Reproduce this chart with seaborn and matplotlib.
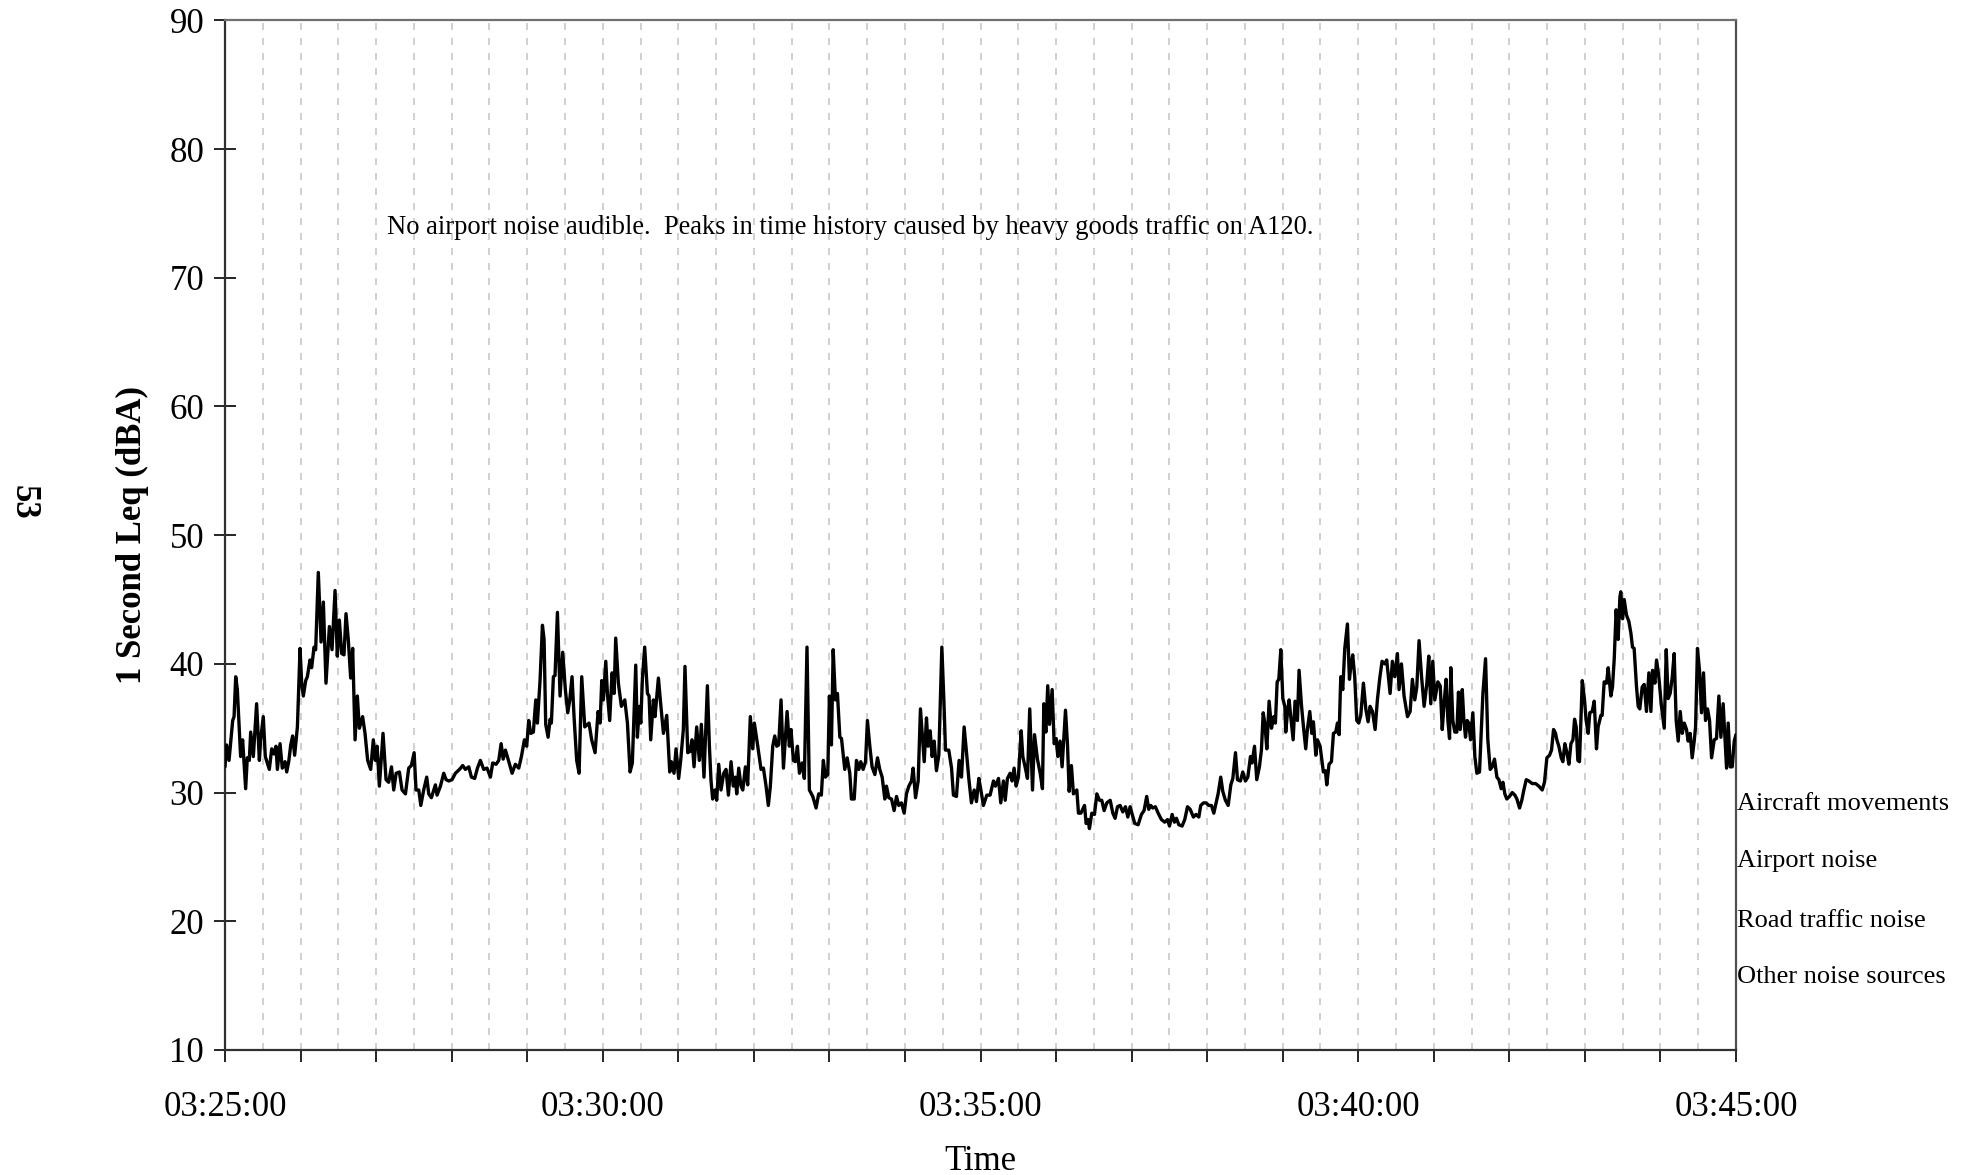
import matplotlib
matplotlib.use("Agg")
import matplotlib.pyplot as plt
from matplotlib.ticker import FixedLocator, NullFormatter, FixedFormatter
import seaborn as sns
import pandas as pd

# ---- data: (seconds after 03:25:00, 1 second Leq dBA) ----
trace_0325 = [(0.0, 32.0), (1.3, 33.7), (3.2, 32.5), (6.1, 35.6), (7.2, 35.9), (8.5, 39.0), (9.8, 38.0),
              (12.4, 32.8), (14.0, 34.1), (16.4, 30.3), (17.7, 32.7), (19.3, 32.5), (20.4, 34.7), (22.5, 32.8),
              (25.1, 36.9), (27.3, 32.5), (28.3, 34.1), (30.4, 35.9), (32.0, 32.8), (35.2, 31.8), (37.1, 33.4),
              (38.9, 33.0), (40.5, 33.6), (41.6, 31.8), (43.7, 33.8), (45.5, 31.9), (47.7, 32.4), (49.0, 31.6),
              (50.6, 32.4), (52.2, 33.7), (53.7, 34.4), (55.3, 32.9), (57.5, 35.1), (59.6, 41.2), (60.9, 38.5),
              (62.2, 37.5), (64.1, 38.7), (65.4, 39.0), (67.5, 40.3), (68.8, 39.7), (70.7, 41.3), (72.0, 41.1),
              (74.1, 47.1), (76.3, 41.7), (78.1, 44.8), (80.2, 38.5), (82.9, 42.9), (85.0, 41.1), (87.4, 45.7),
              (89.2, 40.6), (90.8, 43.4), (92.7, 40.8), (94.5, 40.7), (96.1, 43.9), (97.9, 41.9), (99.8, 38.9),
              (101.4, 41.2), (103.3, 34.1), (105.1, 37.5), (106.7, 35.0), (109.3, 35.9), (111.2, 34.6),
              (113.3, 32.5), (115.7, 31.8), (117.8, 34.1)]
trace_0327 = [(119.4, 32.5), (120.8, 33.6), (122.6, 30.5), (125.5, 34.6), (127.9, 31.0), (130.0, 30.8),
              (132.2, 32.0), (134.0, 30.2), (135.9, 31.5), (138.5, 31.6), (140.6, 30.2), (143.3, 29.9),
              (145.9, 31.9), (148.0, 32.1), (150.2, 33.1), (151.7, 30.2), (153.9, 30.2), (155.5, 29.0),
              (157.8, 30.2), (160.2, 31.2), (161.8, 29.9), (163.9, 29.6), (167.1, 30.6), (168.4, 29.8),
              (171.1, 30.5), (173.7, 31.5), (175.6, 31.0), (177.7, 30.9), (180.3, 31.0), (183.0, 31.5),
              (186.2, 31.8), (188.8, 32.1), (190.9, 31.8), (193.6, 32.0), (195.7, 31.2), (198.3, 31.1),
              (200.5, 31.9), (202.8, 32.5), (205.5, 31.8), (208.1, 31.9), (210.8, 31.2), (212.6, 32.3),
              (215.3, 32.2), (217.4, 32.5), (219.3, 33.8), (220.9, 32.6), (222.7, 33.3), (225.4, 32.4),
              (228.0, 31.5), (230.6, 32.2), (233.3, 31.9), (235.4, 32.8), (237.8, 34.1)]
trace_0329 = [(239.6, 33.6), (241.2, 35.6), (242.8, 34.6), (244.9, 34.7), (246.8, 37.2), (248.1, 35.4),
              (250.2, 38.7), (252.1, 43.0), (253.4, 41.9), (254.7, 35.3), (256.6, 34.3), (258.2, 35.7),
              (259.2, 35.4), (260.8, 39.0), (262.1, 39.1), (264.0, 44.0), (266.1, 37.5), (268.2, 40.9),
              (270.3, 38.0), (272.2, 36.2), (273.8, 37.2), (275.6, 39.0), (277.2, 35.9), (279.3, 32.5),
              (281.2, 31.5), (283.3, 39.0), (285.7, 35.1), (289.1, 35.4), (291.2, 34.1), (293.9, 33.1),
              (296.3, 36.3), (297.9, 35.4), (299.2, 38.7), (300.5, 37.2), (302.4, 40.2), (303.7, 37.7),
              (305.5, 35.6), (307.4, 39.3), (309.0, 37.7), (310.3, 42.0), (312.4, 38.5), (314.8, 36.7),
              (317.5, 37.2), (319.6, 35.4), (321.7, 31.6), (323.5, 32.3), (324.9, 36.2), (326.2, 39.9),
              (327.5, 34.3), (329.1, 36.7), (330.2, 35.4), (331.5, 38.9), (333.3, 41.3), (335.5, 37.7),
              (336.8, 37.5), (338.1, 34.1), (340.2, 37.2), (341.5, 35.9), (344.2, 38.9), (346.0, 36.9),
              (348.2, 34.6), (350.8, 36.0), (353.2, 31.6), (354.5, 32.4), (356.6, 31.5), (358.2, 33.4)]
trace_0331 = [(360.3, 31.1), (361.9, 32.5), (364.0, 34.9), (365.3, 39.8), (367.5, 33.1), (369.3, 33.2),
              (370.9, 34.1), (372.5, 32.0), (374.6, 35.1), (376.7, 32.5), (378.3, 35.3), (380.4, 31.2),
              (383.1, 38.3), (384.7, 33.6), (386.0, 30.9), (387.3, 29.5), (389.2, 30.2), (390.5, 29.4),
              (392.1, 32.2), (393.9, 30.2), (396.1, 31.5), (397.9, 31.8), (399.8, 29.8), (401.9, 32.4),
              (403.7, 30.5), (405.3, 31.2), (406.4, 29.9), (408.0, 31.9), (409.8, 30.5), (411.2, 30.2),
              (413.3, 32.0), (415.1, 30.6), (417.2, 35.9), (419.1, 33.4), (420.4, 35.4), (423.1, 33.6),
              (425.7, 31.8), (427.6, 31.9), (429.7, 30.5), (431.5, 29.0), (433.1, 30.5), (435.0, 33.6),
              (436.6, 34.4), (438.2, 33.6), (439.7, 33.7), (441.6, 37.2), (443.5, 31.9), (446.4, 36.3),
              (448.2, 33.6), (449.5, 34.9), (451.4, 32.5), (453.0, 32.4), (454.6, 33.6), (456.2, 31.5),
              (458.3, 32.3), (460.1, 31.1), (462.2, 41.3), (464.1, 30.2), (466.8, 29.7), (469.4, 28.8),
              (471.5, 29.9), (473.6, 29.8), (475.2, 32.5), (476.8, 31.2), (478.7, 31.4), (480.0, 37.5)]
trace_0333 = [(481.6, 33.7), (483.0, 41.1), (484.8, 37.2), (486.4, 37.7), (488.3, 34.3), (489.6, 34.2),
              (492.2, 31.8), (494.1, 32.7), (496.2, 31.5), (497.5, 29.5), (499.7, 29.5), (501.5, 32.5),
              (503.4, 31.8), (504.9, 32.4), (506.8, 31.8), (508.7, 32.4), (510.2, 35.6), (512.1, 33.6),
              (513.9, 32.0), (516.1, 31.4), (518.2, 32.7), (520.0, 31.8), (521.9, 31.2), (524.0, 29.5),
              (525.3, 30.5), (527.2, 29.6), (529.3, 29.5), (531.4, 28.6), (533.3, 29.7), (535.1, 29.0),
              (537.2, 29.2), (539.4, 28.4), (541.2, 29.9), (543.1, 30.5), (545.2, 30.9), (546.5, 31.9),
              (548.4, 29.6), (550.5, 30.9), (552.3, 36.5), (553.7, 34.6), (555.3, 32.4), (557.1, 35.8),
              (558.4, 33.6), (560.0, 34.8), (561.6, 32.8), (563.2, 34.0), (565.0, 31.7), (566.9, 32.9),
              (569.3, 41.3), (570.9, 37.2), (572.2, 33.3), (574.8, 33.3), (577.0, 31.9), (578.5, 29.8),
              (580.9, 29.7), (583.0, 32.5), (584.9, 31.2), (587.0, 35.1), (588.9, 33.1), (590.7, 31.1),
              (592.8, 29.2), (595.0, 30.2), (596.8, 29.3), (598.7, 31.1), (600.3, 30.2)]
trace_0335 = [(602.3, 29.0), (605.0, 29.8), (607.6, 29.8), (610.3, 30.9), (611.9, 30.5), (614.3, 31.1),
              (616.1, 29.2), (618.2, 30.9), (619.6, 29.4), (621.4, 31.1), (623.5, 31.5), (625.1, 30.9),
              (626.7, 31.9), (628.3, 30.5), (630.1, 31.2), (632.3, 34.8), (633.6, 32.8), (635.4, 32.0),
              (637.3, 31.1), (639.1, 36.5), (641.3, 30.2), (642.9, 34.5), (645.2, 32.6), (647.4, 31.5),
              (649.2, 30.3), (650.3, 36.9), (651.9, 34.7), (653.4, 38.3), (654.8, 35.3), (656.9, 38.0),
              (658.5, 33.8), (660.1, 34.2), (661.4, 32.8), (663.2, 34.0), (664.8, 32.0), (667.5, 36.4),
              (669.1, 33.7), (670.4, 30.1), (672.2, 32.1), (673.8, 29.9), (676.5, 30.2), (677.8, 28.4),
              (679.7, 28.4), (682.6, 29.0), (683.9, 27.6), (685.5, 27.9), (686.5, 27.2), (688.4, 28.4),
              (690.5, 28.3), (692.4, 29.9), (694.5, 29.4), (696.3, 29.4), (698.2, 28.6), (700.3, 29.2),
              (703.0, 29.4), (705.1, 28.4), (706.9, 28.0), (708.8, 28.9), (710.9, 29.0), (713.0, 28.5),
              (715.1, 28.9), (717.0, 28.1), (718.8, 28.9)]
trace_0337 = [(722.5, 27.6), (725.2, 27.5), (727.8, 28.3), (729.9, 28.6), (732.0, 29.7), (733.6, 28.7),
              (735.2, 29.0), (736.8, 28.8), (738.9, 28.9), (741.1, 28.4), (743.7, 27.9), (746.3, 27.7),
              (748.5, 27.9), (750.1, 27.4), (752.2, 28.3), (754.0, 27.7), (755.6, 28.0), (757.5, 27.5),
              (760.1, 27.4), (762.2, 27.9), (764.4, 28.9), (766.5, 28.7), (769.1, 28.1), (771.2, 28.3),
              (773.4, 28.1), (774.9, 29.0), (777.1, 29.2), (779.2, 29.2), (781.3, 29.0), (783.4, 29.0),
              (785.3, 28.4), (787.1, 29.2), (788.7, 29.9), (790.8, 31.2), (792.4, 30.1), (794.5, 29.4),
              (796.7, 29.0), (798.8, 30.6), (800.4, 31.1), (802.5, 33.1), (804.1, 31.0), (806.4, 30.9),
              (808.3, 31.6), (810.4, 30.9), (812.3, 31.2), (814.4, 32.8), (815.7, 32.3), (817.6, 33.6),
              (819.4, 31.0), (821.5, 32.0), (823.1, 33.3), (824.5, 36.2), (825.8, 35.4), (827.4, 33.4),
              (829.2, 37.1), (831.1, 35.0), (832.9, 35.9), (834.2, 35.4), (835.6, 38.6), (836.9, 38.8),
              (838.5, 41.1), (840.1, 37.3), (841.7, 36.7)]
trace_0339 = [(842.4, 34.7), (843.7, 36.1), (845.1, 37.2), (846.4, 35.9), (848.3, 34.1), (849.8, 37.1),
              (851.7, 35.6), (853.0, 39.5), (854.9, 36.8), (856.5, 35.1), (858.3, 33.4), (859.6, 34.9),
              (861.5, 36.3), (863.1, 34.6), (864.4, 35.5), (866.3, 32.9), (867.6, 34.1), (869.7, 33.6),
              (872.3, 31.6), (873.9, 31.7), (875.0, 30.6), (876.8, 32.2), (878.7, 32.4), (880.3, 34.6),
              (882.1, 34.7), (883.5, 35.4), (884.8, 34.5), (886.1, 39.0), (887.7, 38.0), (889.3, 41.2),
              (891.4, 43.1), (893.0, 38.8), (894.1, 39.8), (895.6, 40.7), (897.2, 39.0), (898.8, 35.6),
              (900.4, 35.4), (902.0, 36.0), (904.1, 38.5), (906.0, 36.5), (907.8, 35.5), (909.4, 36.7),
              (911.3, 36.3), (913.4, 34.9), (915.2, 37.2), (917.1, 38.9), (918.9, 40.2), (921.1, 40.0),
              (922.6, 40.3), (925.3, 37.7), (927.1, 40.2), (929.0, 39.0), (931.1, 40.8), (932.4, 38.0),
              (934.3, 40.0), (936.4, 37.5), (939.1, 35.9), (941.2, 36.3), (943.0, 38.8), (944.9, 37.2),
              (946.5, 38.2), (948.3, 41.8), (950.2, 39.1), (952.3, 36.7), (954.4, 38.4), (956.0, 40.6),
              (957.6, 36.9), (959.2, 40.2), (960.8, 37.2)]
trace_0341 = [(963.2, 38.6), (965.1, 38.3), (966.7, 34.9), (968.3, 37.1), (969.8, 38.8), (971.2, 35.6),
              (972.5, 34.2), (973.5, 39.7), (975.1, 35.6), (976.7, 34.7), (978.3, 34.7), (979.6, 37.8),
              (981.0, 34.9), (982.6, 38.0), (983.9, 35.6), (985.2, 34.3), (986.5, 35.6), (987.8, 35.4),
              (989.2, 34.1), (991.0, 36.2), (992.6, 32.8), (994.2, 31.5), (996.3, 31.6), (999.0, 37.7),
              (1001.1, 40.4), (1002.9, 34.1), (1004.8, 31.8), (1006.4, 32.0), (1008.2, 32.6), (1010.1, 31.2),
              (1011.7, 31.0), (1013.5, 30.3), (1014.9, 30.8), (1016.4, 29.9), (1018.0, 29.5), (1020.1, 29.7),
              (1022.3, 30.0), (1024.4, 29.8), (1026.0, 29.5), (1028.1, 28.8), (1029.9, 29.4), (1031.3, 30.1),
              (1033.4, 31.0), (1035.5, 30.9), (1038.1, 30.7), (1040.8, 30.7), (1043.4, 30.5), (1046.1, 30.2),
              (1047.9, 30.8), (1049.8, 32.7), (1051.9, 32.9), (1053.5, 33.3), (1055.1, 34.9), (1056.7, 34.6),
              (1057.7, 34.1), (1059.3, 33.6), (1061.2, 32.7), (1062.5, 32.4), (1064.1, 33.8), (1065.7, 33.1),
              (1067.3, 32.2), (1068.9, 33.8), (1070.5, 34.1), (1071.8, 35.7), (1073.1, 35.1), (1074.4, 32.5),
              (1075.7, 32.4), (1077.9, 38.7), (1079.7, 37.2), (1081.0, 35.6)]
trace_0343 = [(1082.6, 34.6), (1083.9, 36.2), (1085.8, 36.3), (1087.4, 37.1), (1089.2, 33.4), (1090.5, 35.1),
              (1092.7, 36.0), (1093.7, 36.0), (1095.3, 38.6), (1097.2, 38.5), (1098.5, 39.7), (1100.6, 37.5),
              (1101.9, 38.2), (1103.3, 40.4), (1104.8, 44.2), (1106.4, 41.9), (1107.8, 45.2), (1108.5, 45.6),
              (1109.9, 43.5), (1111.2, 45.0), (1113.0, 43.8), (1114.9, 43.3), (1116.5, 42.4), (1117.8, 41.3),
              (1119.1, 41.2), (1121.0, 38.2), (1122.3, 36.7), (1123.6, 36.5), (1125.5, 38.2), (1127.1, 38.4),
              (1128.9, 36.3), (1130.8, 39.3), (1132.4, 36.3), (1133.7, 39.5), (1135.6, 38.5), (1136.9, 40.3),
              (1138.7, 39.0), (1140.8, 36.7), (1143.0, 35.0), (1144.6, 41.1), (1146.1, 37.3), (1147.7, 37.7),
              (1149.3, 38.9), (1150.9, 40.8), (1152.5, 35.6), (1154.1, 34.0), (1155.7, 36.3), (1157.3, 34.6),
              (1158.9, 35.4), (1160.7, 34.9), (1162.0, 34.0), (1163.6, 34.6), (1165.2, 32.7), (1166.8, 34.0),
              (1167.9, 35.1), (1169.4, 41.2), (1171.0, 39.5), (1172.6, 36.2), (1174.2, 39.3), (1175.8, 35.6),
              (1177.4, 36.5), (1179.0, 35.6), (1180.6, 32.7), (1182.7, 34.1), (1184.5, 34.2), (1186.4, 37.5),
              (1188.0, 34.3), (1189.8, 36.9), (1191.2, 34.3), (1192.5, 31.9), (1193.8, 35.4), (1195.4, 32.0),
              (1197.0, 32.0), (1198.6, 34.0), (1200.0, 34.5)]

x_tick_labels = ["03:25:00", "03:30:00", "03:35:00", "03:40:00", "03:45:00"]
y_ticks = [10, 20, 30, 40, 50, 60, 70, 80, 90]
source_labels = ["Aircraft movements", "Airport noise", "Road traffic noise", "Other noise sources"]
source_label_y = [29.1, 24.7, 20.0, 15.7]
note_text = "No airport noise audible.  Peaks in time history caused by heavy goods traffic on A120."
y_label = "1 Second Leq (dBA)"
x_label = "Time"
page_number = "53"

# ---- build frame ----
all_points = (trace_0325 + trace_0327 + trace_0329 + trace_0331 + trace_0333 + trace_0335 +
              trace_0337 + trace_0339 + trace_0341 + trace_0343)
df = pd.DataFrame(all_points, columns=["seconds", "leq"])

sns.set_theme(style="white")
plt.rcParams['font.family'] = ['Liberation Serif', 'DejaVu Serif']

W, H = 1977, 1175
fig = plt.figure(figsize=(W / 100, H / 100), dpi=100)
ax_l, ax_r, ax_t, ax_b = 225, 1736, 20.3, 1050
ax = fig.add_axes([ax_l / W, 1 - ax_b / H, (ax_r - ax_l) / W, (ax_b - ax_t) / H])

# dashed vertical grid every 30 s
for t in range(30, 1200, 30):
    ax.axvline(t, color="#c8c8c8", lw=1.2, ls=(0, (4.2, 4.8)), zorder=0)

sns.lineplot(data=df, x="seconds", y="leq", ax=ax, color="black", lw=2.4,
             estimator=None, sort=False, zorder=3)

ax.set_xlim(0, 1200)
ax.set_ylim(10, 90)

ax.xaxis.set_major_locator(FixedLocator(list(range(0, 1201, 300))))
ax.xaxis.set_major_formatter(FixedFormatter(x_tick_labels))
ax.xaxis.set_minor_locator(FixedLocator(list(range(0, 1201, 60))))
ax.xaxis.set_minor_formatter(NullFormatter())
ax.set_yticks(y_ticks)
ax.set_yticklabels([str(v) for v in y_ticks])

ax.tick_params(axis="x", which="both", direction="out", length=8.5, width=1.2,
               color="black", bottom=True, labelsize=25, pad=21, labelcolor="black")
ax.tick_params(axis="y", which="major", direction="inout", length=16, width=1.2,
               color="black", left=True, labelsize=25, pad=7, labelcolor="black")

for side in ["left", "bottom", "top", "right"]:
    ax.spines[side].set_visible(True)
    ax.spines[side].set_linewidth(1.6)
ax.spines["left"].set_color("#303030")
ax.spines["bottom"].set_color("#303030")
ax.spines["top"].set_color("#707070")
ax.spines["right"].set_color("#505050")

ax.set_xlabel("")
ax.set_ylabel("")

fig.text(132 / W, 1 - 535 / H, y_label, rotation=90, ha="center", va="center",
         fontsize=25, fontweight="bold", color="black")
fig.text((ax_l + ax_r) / 2 / W, 1 - 1161 / H, x_label, ha="center", va="center",
         fontsize=25, color="black")
fig.text(23 / W, 1 - 502 / H, page_number, rotation=-90, ha="center", va="center",
         fontsize=25, fontweight="bold", color="black")

ax.text(128.7, 73.9, note_text, ha="left", va="center", fontsize=19.1, color="black")

for lab, yv in zip(source_labels, source_label_y):
    ax.text(1201, yv, lab, ha="left", va="center", fontsize=19, color="black", clip_on=False)

fig.savefig("out.png", dpi=100, facecolor="white")
